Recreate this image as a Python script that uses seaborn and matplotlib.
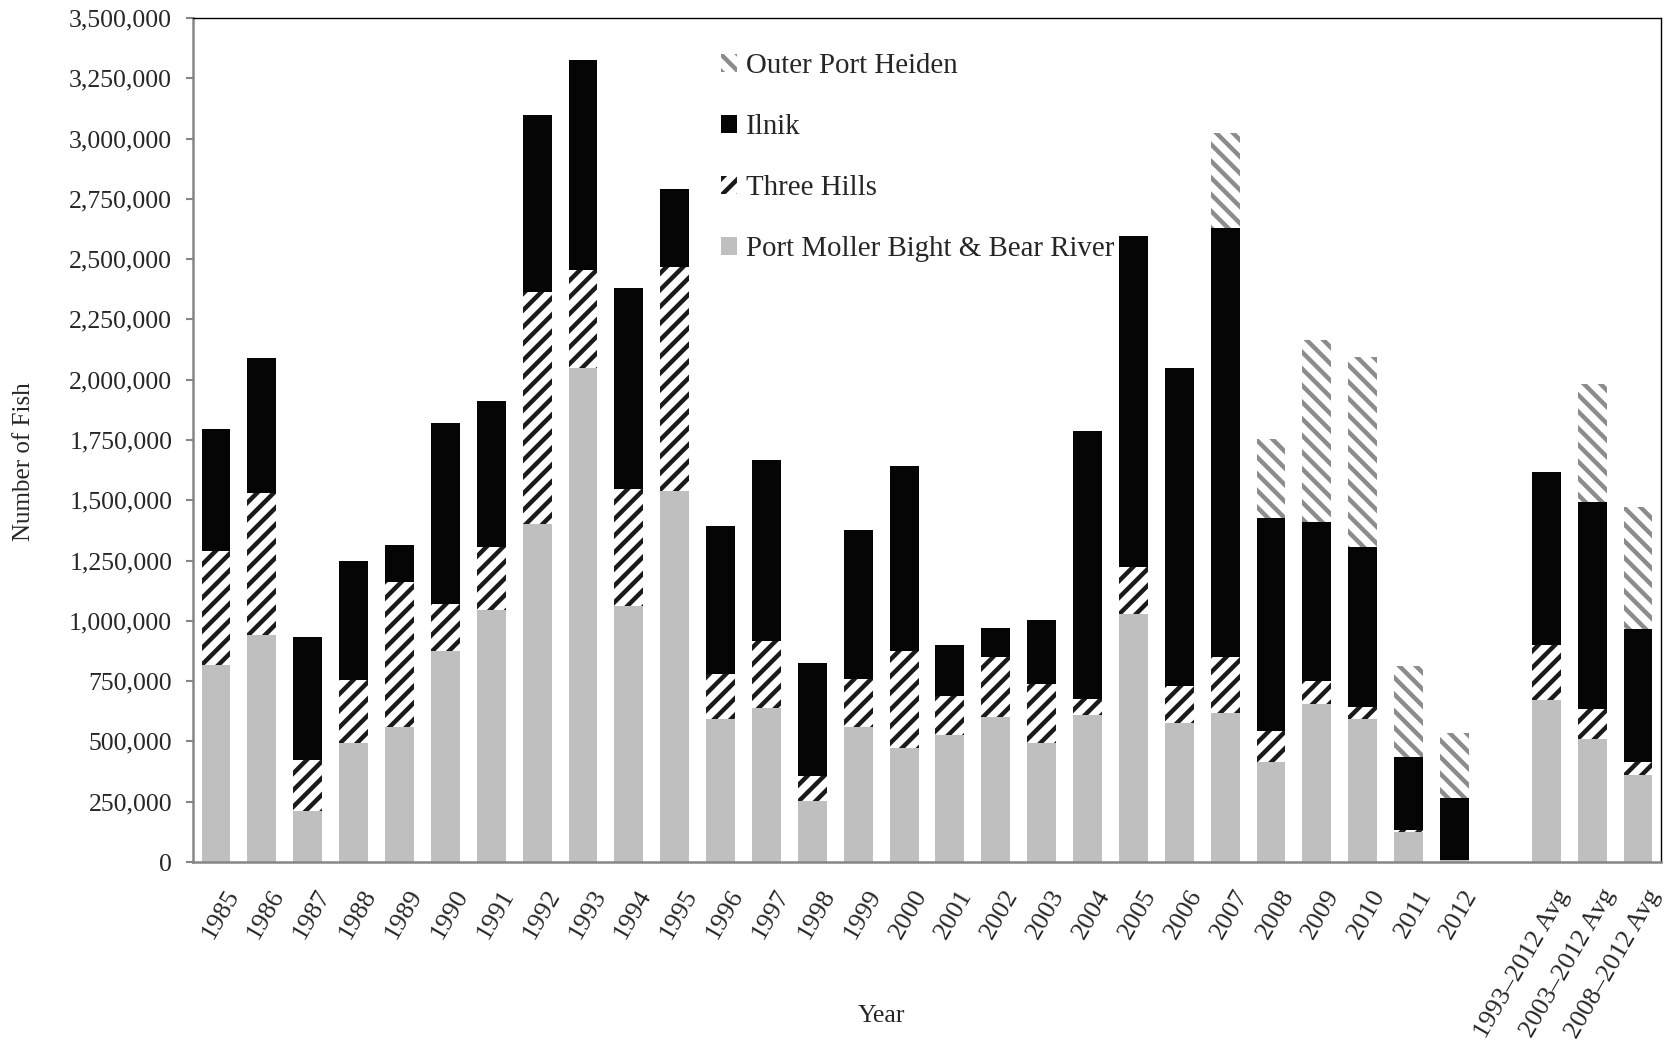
import matplotlib
matplotlib.use("Agg")

import matplotlib.pyplot as plt
import matplotlib.patches as mpatches
import matplotlib.transforms as mtransforms
from matplotlib.ticker import FuncFormatter, MultipleLocator
import numpy as np
import pandas as pd
import seaborn as sns

# ------------------------------------------------------
# Data (number of fish)
# ------------------------------------------------------

years = [str(y) for y in range(1985, 2013)]
averages = ["1993\u20132012 Avg", "2003\u20132012 Avg", "2008\u20132012 Avg"]
categories = years + averages

port_moller = [
    818000, 940000, 210000, 495000, 560000, 875000, 1046000, 1401000,
    2047000, 1060000, 1537000, 592000, 640000, 252000, 558000, 471000,
    527000, 600000, 495000, 608000, 1027000, 578000, 618000, 415000,
    657000, 593000, 124000, 8000,
    672000, 510000, 359000,
]

three_hills = [
    470000, 590000, 213000, 260000, 600000, 193000, 259000, 962000,
    406000, 485000, 931000, 186000, 275000, 106000, 203000, 404000,
    163000, 251000, 243000, 66000, 195000, 152000, 234000, 130000,
    93000, 50000, 7000, 2000,
    228000, 126000, 54000,
]

ilnik = [
    509000, 559000, 509000, 492000, 153000, 752000, 605000, 734000,
    871000, 835000, 322000, 614000, 752000, 468000, 614000, 768000,
    208000, 121000, 267000, 1115000, 1373000, 1320000, 1777000, 883000,
    658000, 663000, 306000, 257000,
    717000, 859000, 553000,
]

outer_port_heiden = [
    0, 0, 0, 0, 0, 0, 0, 0,
    0, 0, 0, 0, 0, 0, 0, 0,
    0, 0, 0, 0, 0, 0, 396000, 328000,
    758000, 788000, 376000, 268000,
    0, 487000, 506000,
]

series_names = [
    "Port Moller Bight & Bear River",
    "Three Hills",
    "Ilnik",
    "Outer Port Heiden",
]

# empty slot between 2012 and the averages
order = years + [" "] + averages

# ------------------------------------------------------
# Styles
# ------------------------------------------------------

GRAY = "#bfbfbf"
BLACK = "#050505"
HATCH_BLACK = "#1a1a1a"
HATCH_GRAY = "#8c8c8c"
AXIS_GRAY = "#868686"

sns.set_style("white")
plt.rcParams["font.family"] = ["Liberation Serif", "DejaVu Serif"]
plt.rcParams["hatch.linewidth"] = 3.2

df = pd.DataFrame({
    "category": categories,
    "pm": port_moller,
    "th": three_hills,
    "il": ilnik,
    "op": outer_port_heiden,
})

df["cum_pm"] = df["pm"]
df["cum_th"] = df["cum_pm"] + df["th"]
df["cum_il"] = df["cum_th"] + df["il"]
df["cum_op"] = df["cum_il"] + df["op"]

fig, ax = plt.subplots(figsize=(16.73, 10.59), dpi=100)
fig.subplots_adjust(left=0.1154, right=0.9928, bottom=0.186, top=0.983)

BAR_WIDTH = 0.63

# ======================================================
# Stacked bars drawn as overlapping cumulative totals
# ======================================================

layers = [
    ("cum_op", dict(color="white", edgecolor=HATCH_GRAY, hatch="\\\\")),
    ("cum_il", dict(color=BLACK, edgecolor=BLACK)),
    ("cum_th", dict(color="white", edgecolor=HATCH_BLACK, hatch="//")),
    ("cum_pm", dict(color=GRAY, edgecolor=GRAY)),
]

for column, style in layers:
    sns.barplot(
        data=df,
        x="category",
        y=column,
        order=order,
        width=BAR_WIDTH,
        saturation=1,
        errorbar=None,
        linewidth=0,
        ax=ax,
        **style
    )

# ======================================================
# Axes
# ======================================================

ax.set_xlim(-0.5, len(order) - 0.5)
ax.set_ylim(0, 3500000)
ax.yaxis.set_major_locator(MultipleLocator(250000))
ax.yaxis.set_major_formatter(FuncFormatter(lambda v, p: f"{int(v):,}"))

ax.tick_params(axis="y", which="major", direction="out", length=5,
               width=1.5, color=AXIS_GRAY, labelsize=18.5, pad=10,
               left=True)
ax.tick_params(axis="x", length=0, labelsize=19, pad=17)

shift = mtransforms.ScaledTranslation(0.08, 0, fig.dpi_scale_trans)
for label in ax.get_xticklabels():
    label.set_rotation(60)
    label.set_ha("right")
    label.set_va("top")
    label.set_rotation_mode("anchor")
    label.set_transform(label.get_transform() + shift)

for side in ["left", "bottom"]:
    ax.spines[side].set_color(AXIS_GRAY)
    ax.spines[side].set_linewidth(1.8)

for side in ["top", "right"]:
    ax.spines[side].set_color("black")
    ax.spines[side].set_linewidth(1.0)

ax.set_xlabel("Year", fontsize=18.5)
ax.set_ylabel("Number of Fish", fontsize=18)
ax.xaxis.set_label_coords(0.469, -0.169)
ax.yaxis.set_label_coords(-0.108, 0.474)

# ======================================================
# Legend
# ======================================================

handles = [
    mpatches.Patch(facecolor="white", edgecolor=HATCH_GRAY, hatch="\\\\",
                   linewidth=0, label=series_names[3]),
    mpatches.Patch(facecolor=BLACK, edgecolor=BLACK, linewidth=0,
                   label=series_names[2]),
    mpatches.Patch(facecolor="white", edgecolor=HATCH_BLACK, hatch="//",
                   linewidth=0, label=series_names[1]),
    mpatches.Patch(facecolor=GRAY, edgecolor=GRAY, linewidth=0,
                   label=series_names[0]),
]

ax.legend(
    handles=handles,
    loc="upper left",
    bbox_to_anchor=(0.352, 0.972),
    frameon=False,
    fontsize=20.8,
    handlelength=0.55,
    handleheight=0.55,
    handletextpad=0.3,
    labelspacing=1.21,
    borderaxespad=0,
)

plt.savefig("out.png", dpi=100)
plt.close()
